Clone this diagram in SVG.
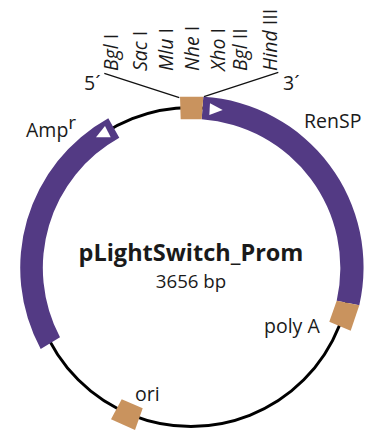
<svg xmlns="http://www.w3.org/2000/svg" width="372" height="430" viewBox="0 0 372 430">
<style>
text{font-family:"Open Sans","Noto Sans",sans-serif;fill:#1a1a1a;font-size:19.5px}
.s{font-size:19.5px;font-style:italic}
.n{font-style:normal}
.h{font-size:23.5px;font-weight:700}
.c{font-size:18.7px}
.sup{font-size:19px}
.b{fill:#533a84}
.t{fill:#c9935e}
.w{fill:#fff}
.l{fill:none;stroke:#111;stroke-width:1.3}
</style>
<g id="connectors">
<circle cx="191" cy="267" r="159.5" fill="none" stroke="#000" stroke-width="3"/>
<path class="l" d="M104.3 73.3L179.3 97.7M278.3 72.3L204 96.7"/>
</g>
<g id="renSP">
<path class="b" d="M203.3 96.7A171 171 0 0 1 359.3 305.3L336.7 300.7A149 149 0 0 0 201.7 119.3Z"/>
<path class="w" d="M210 103.3L222.7 110L209.3 115Z"/>
<text x="304" y="128">RenSP</text>
</g>
<g id="ampR">
<path class="b" d="M108.3 118.3L119.3 137.7A149 149 0 0 0 60 337.3L40.7 349A171 171 0 0 1 108.3 118.3Z"/>
<path class="w" d="M105 126L110.7 137.3L96 137.3Z"/>
<text x="26" y="137">Amp<tspan class="sup" dy="-8">r</tspan></text>
</g>
<g id="mcs">
<path class="t" d="M180 96.7L203.3 96.7L201.7 119.3L180.7 119.3Z"/>
<text class="s" transform="translate(118 71) rotate(-90)">Bgl <tspan class="n">I</tspan></text>
<text class="s" transform="translate(147 71) rotate(-90)">Sac <tspan class="n">I</tspan></text>
<text class="s" transform="translate(173 71) rotate(-90)">Mlu <tspan class="n">I</tspan></text>
<text class="s" transform="translate(199 71) rotate(-90)">Nhe <tspan class="n">I</tspan></text>
<text class="s" transform="translate(225 71) rotate(-90)">Xho <tspan class="n">I</tspan></text>
<text class="s" transform="translate(247 71) rotate(-90)">Bgl <tspan class="n">II</tspan></text>
<text class="s" transform="translate(277 71) rotate(-90)">Hind <tspan class="n">III</tspan></text>
<text x="84" y="90">5´</text>
<text x="283" y="90">3´</text>
</g>
<g id="polyA">
<path class="t" d="M336.7 300.7L359.3 305.3L350.7 330.7L329.3 321.7Z"/>
<text x="264" y="333">poly A</text>
</g>
<g id="ori">
<path class="t" d="M121.7 399.3L142.7 408.3L135 430L111 419.3Z"/>
<text x="135" y="401">ori</text>
</g>
<g id="title">
<text class="h" x="191" y="260.5" text-anchor="middle">pLightSwitch_Prom</text>
<text class="c" x="191" y="287.5" text-anchor="middle">3656 bp</text>
</g>
</svg>
